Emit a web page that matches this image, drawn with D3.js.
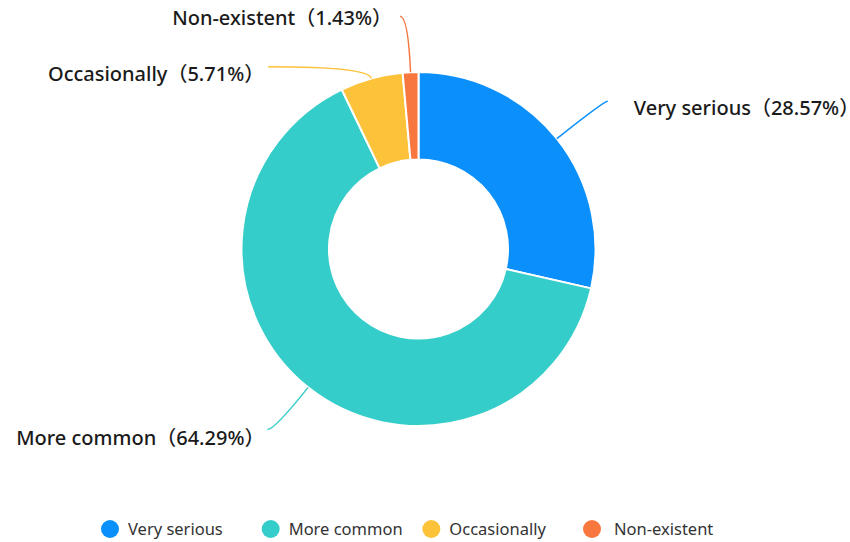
<!DOCTYPE html>
<html>
<head>
<meta charset="utf-8">
<script src="https://cdn.jsdelivr.net/npm/d3@7"></script>
<style>
  html, body { margin: 0; padding: 0; background: #fff; }
  svg { display: block; }
</style>
</head>
<body>
<svg id="chart" width="850" height="542"></svg>
<script>
// Severity categories and their shares (%)
const categories = ["Very serious", "More common", "Occasionally", "Non-existent"];
const shares = [28.57, 64.29, 5.71, 1.43];
const colors = ["#0a8ffb", "#35cdc9", "#fbc23a", "#f7773f"];

// Leader-line layout per slice: radial extension beyond the ring, horizontal tail,
// gap between line end and text, and vertical text shift
const lineRadial = [60, 54, 12, 56];
const lineTail = [4, 7, 100, 8];
const textGap = [26, 13, 14, 18];
const textShift = [7, 8, 7, 2];

const W = 850, H = 542;
const cx = 418.5, cy = 249;
const outerR = 177, innerR = 89.5;

const svg = d3.select("#chart");
const g = svg.append("g").attr("transform", `translate(${cx},${cy})`);

const pie = d3.pie().sort(null).value(d => d.value);
const arcs = pie(categories.map((c, i) => ({ name: c, value: shares[i], i })));

const arc = d3.arc().innerRadius(innerR).outerRadius(outerR);

g.selectAll("path.slice")
  .data(arcs)
  .join("path")
  .attr("class", "slice")
  .attr("d", arc)
  .attr("fill", d => colors[d.data.i])
  .attr("stroke", "#fff")
  .attr("stroke-width", 2)
  .attr("stroke-linejoin", "round");

// Point at radius r along angle a (d3 angles: 0 at 12 o'clock, clockwise)
const polar = (r, a) => [r * Math.sin(a), -r * Math.cos(a)];

const labels = g.append("g");
arcs.forEach(d => {
  const i = d.data.i;
  const mid = (d.startAngle + d.endAngle) / 2;
  const side = Math.sin(mid) >= 0 ? 1 : -1;
  const p0 = polar(outerR, mid);
  const p1 = polar(outerR + lineRadial[i], mid);
  const p2 = [p1[0] + side * lineTail[i], p1[1]];
  // smooth leader line: quadratic curve with the elbow as control point
  const path = d3.path();
  path.moveTo(p0[0], p0[1]);
  path.quadraticCurveTo(p1[0], p1[1], p2[0], p2[1]);
  labels.append("path")
    .attr("d", path.toString())
    .attr("fill", "none")
    .attr("stroke", colors[i])
    .attr("stroke-width", 1.5);

  const t = labels.append("text")
    .attr("x", p2[0] + side * textGap[i])
    .attr("y", p2[1] + textShift[i])
    .attr("dy", "0.35em")
    .attr("text-anchor", side > 0 ? "start" : "end")
    .attr("font-family", "'Noto Sans', 'Noto Sans CJK SC', sans-serif")
    .attr("font-size", 20)
    .attr("font-weight", 500)
    .attr("fill", "#1a1a1a");
  t.append("tspan").text(`${d.data.name}（${d.data.value.toFixed(2)}%`);
  // full-width closing bracket with its trailing blank half trimmed
  t.append("tspan").attr("letter-spacing", -10).text("）");
});

// Legend along the bottom
const legendX = d3.scalePoint().domain(categories).range([110, 592]);
const legend = svg.append("g").attr("transform", "translate(0,529)");
const items = legend.selectAll("g.item")
  .data(categories)
  .join("g")
  .attr("class", "item")
  .attr("transform", c => `translate(${legendX(c)},0)`);
items.append("circle")
  .attr("r", 9)
  .attr("fill", (c, i) => colors[i]);
items.append("text")
  .attr("x", (c, i) => i === 3 ? 22 : 18)
  .attr("dy", "0.35em")
  .attr("font-family", "'Noto Sans', sans-serif")
  .attr("font-size", 16.5)
  .attr("fill", "#333")
  .text(c => c);
</script>
</body>
</html>
